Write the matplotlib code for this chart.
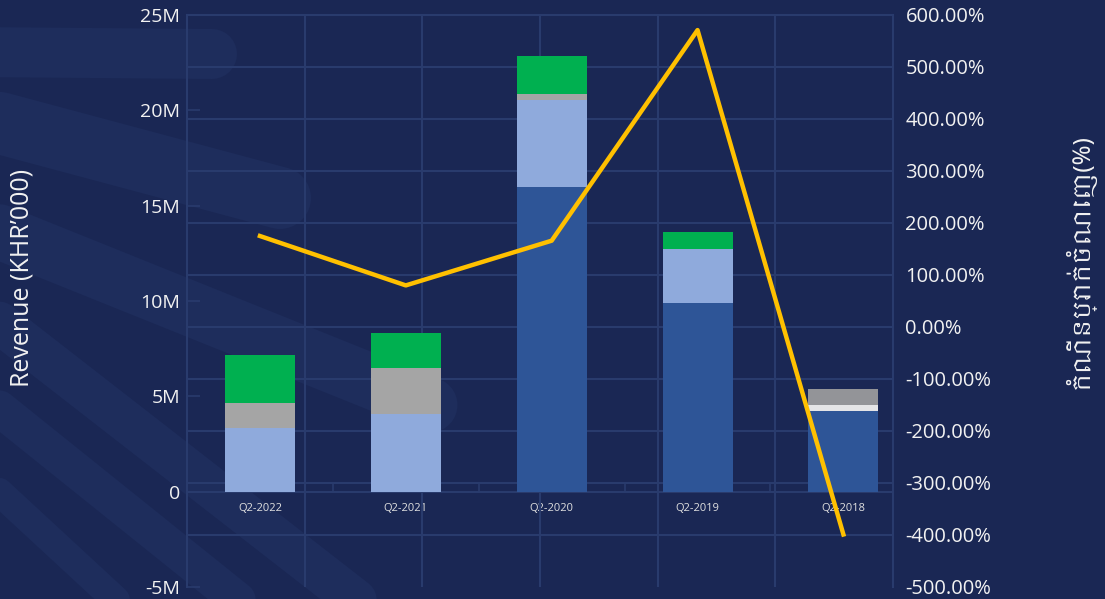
import numpy as np
import matplotlib
matplotlib.use('Agg')
import matplotlib.pyplot as plt
from matplotlib import font_manager
from matplotlib.lines import Line2D

quarters = ['Q2-2022', 'Q2-2021', 'Q2-2020', 'Q2-2019', 'Q2-2018']
# revenue split in millions (KHR'000)
dark_blue = [0, 0, 15.96, 9.90, 4.21]
light_blue = [3.36, 4.06, 4.59, 2.82, 0]
light_grey = [0, 0, 0, 0, 0.31]
grey = [1.27, 2.45, 0.31, 0, 0]
dark_grey = [0, 0, 0, 0, 0.89]
green = [2.56, 1.83, 1.98, 0.89, 0]
growth = [175, 80, 166, 571, -399]   # %

left_ticks = [-5, 0, 5, 10, 15, 20, 25]
right_ticks = list(range(-500, 700, 100))

bg = '#1A2754'
gc = '#293B6D'
txt = '#F2F2F2'

khmer = [f.name for f in font_manager.fontManager.ttflist if 'Khmer' in f.name]
fam = ['Open Sans', 'DejaVu Sans']
plt.rcParams['font.family'] = fam

fig = plt.figure(figsize=(11.05, 5.99), dpi=100, facecolor=bg)

# faint decorative bands on the background
W, H = 1105.0, 599.0
bands = [((-30, 52), (212, 54), 50), ((-30, 115), (280, 198), 62),
         ((-30, 220), (430, 405), 55), ((-30, 300), (420, 650), 42),
         ((-30, 385), (300, 650), 36), ((-30, 465), (170, 650), 28)]
for (x0, y0), (x1, y1), w in bands:
    fig.add_artist(Line2D([x0 / W, x1 / W], [1 - y0 / H, 1 - y1 / H],
                          transform=fig.transFigure, color='#1E2D5C',
                          lw=w * 0.72, solid_capstyle='round', zorder=-1))

ax = fig.add_axes([187 / W, 1 - 587 / H, (893 - 187) / W, (587 - 15) / H])
ax.patch.set_alpha(0)
x = np.arange(len(quarters))
bw = 0.48

bottom = np.zeros(len(quarters))
for vals, col in [(dark_blue, '#2E5597'), (light_blue, '#8FAADC'),
                  (light_grey, '#E4E4E6'), (grey, '#A5A5A5'),
                  (dark_grey, '#939498'), (green, '#00B050')]:
    ax.bar(x, vals, bw, bottom=bottom, color=col, zorder=3)
    bottom += np.array(vals)

ax.set_xlim(-0.5, 4.34)
ax.set_ylim(-5, 25)
ax.set_yticks(left_ticks)
ax.set_yticklabels(['0' if v == 0 else f'{v}M' for v in left_ticks])
ax.set_yticks(np.linspace(-5, 25, len(right_ticks)), minor=True)
ax.grid(which='minor', axis='y', color=gc, lw=1.5)
ax.set_axisbelow(True)
ax.tick_params(axis='y', which='major', direction='in', length=9, width=1.2,
               color=gc, labelcolor=txt, labelsize=14, pad=5)
ax.tick_params(axis='y', which='minor', length=0)

for i in range(1, 6):
    ax.plot([i / 6, i / 6], [0, 1], transform=ax.transAxes, color=gc, lw=1.5, zorder=1)

ax.spines['bottom'].set_position(('data', 0))
for s in ax.spines.values():
    s.set_color(gc)
    s.set_linewidth(1.5)
ax.set_xticks(x)
ax.set_xticklabels(quarters)
ax.set_xticks(np.arange(-0.5, 4, 1), minor=True)
ax.tick_params(axis='x', which='major', length=0, labelcolor='#E0E0E0', labelsize=8, pad=8)
ax.tick_params(axis='x', which='minor', direction='in', length=7, width=1.2, color=gc)

ax2 = ax.twinx()
ax2.set_ylim(-500, 600)
ax2.plot(x, growth, color='#FFC000', lw=3.2, zorder=5)
ax2.set_yticks(right_ticks)
ax2.set_yticklabels([f'{v:.2f}%' for v in right_ticks])
ax2.tick_params(axis='y', length=0, labelcolor=txt, labelsize=14.5, pad=9)
for s in ax2.spines.values():
    s.set_visible(False)

fig.text(22 / W, 1 - 278 / H, 'Revenue (KHR\u2019000)', rotation=90, color=txt,
         fontsize=18, ha='center', va='center')
fig.text(1080 / W, 1 - 262 / H, 'កំណើនប្រាក់ចំណេញ(%)', rotation=90, color=txt,
         fontsize=17.5, ha='center', va='center', family=khmer + fam)

fig.savefig('out.png', dpi=100, facecolor=bg)
